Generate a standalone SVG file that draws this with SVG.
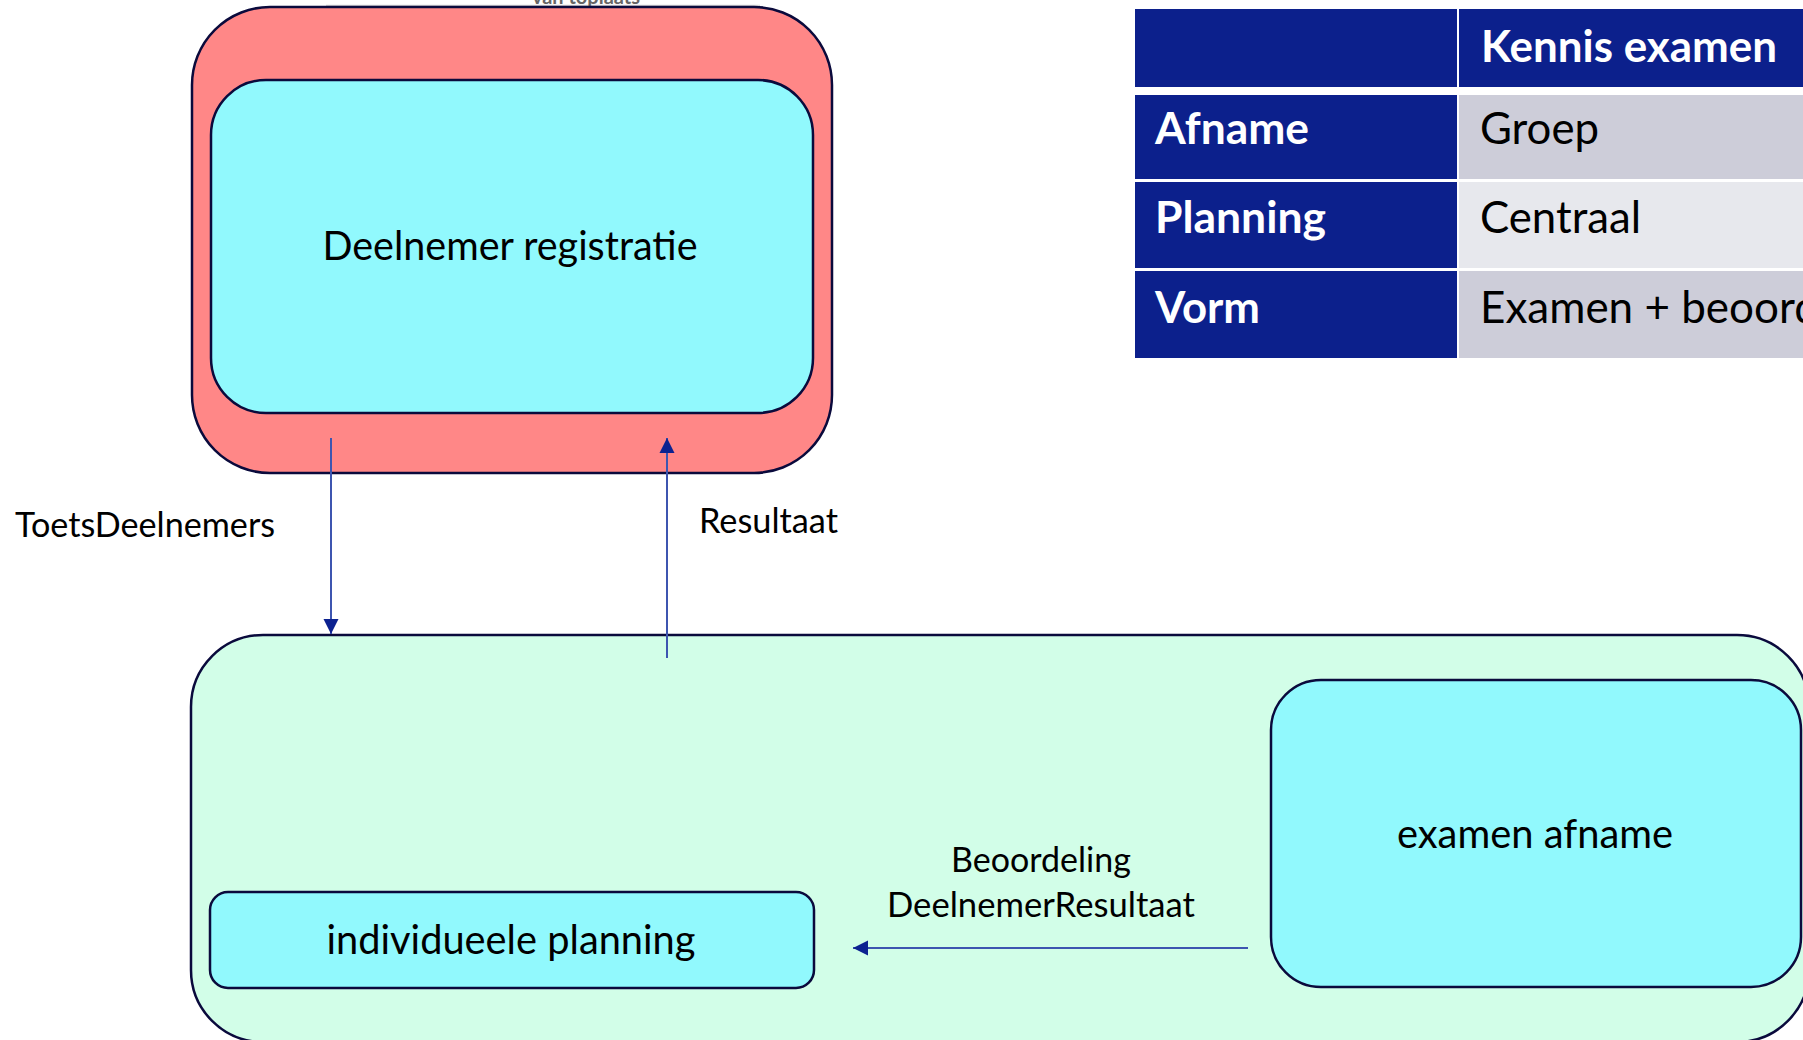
<svg xmlns="http://www.w3.org/2000/svg" width="1803" height="1040" viewBox="0 0 1803 1040">
  <style>
    .box { stroke: #0a0a3c; stroke-width: 2.5; }
    .red { fill: #ff8787; }
    .cyan { fill: #91f9fd; }
    .green { fill: #d2fee8; }
    .lbl { font-family: Lato, "Liberation Sans", sans-serif; fill: #000; }
    .node { font-family: Lato, "Liberation Sans", sans-serif; font-size: 40px; fill: #000; text-anchor: middle; }
    .hdr { fill: #0c208c; }
    .c1 { fill: #cdcdd9; }
    .c2 { fill: #e7e8ed; }
    .th { font-family: Lato, "Liberation Sans", sans-serif; font-weight: bold; font-size: 44px; fill: #fff; }
    .td { font-family: Lato, "Liberation Sans", sans-serif; font-size: 44px; fill: #000; }
    .conn { stroke: #3d55b0; stroke-width: 2; fill: none; }
  </style>
  <defs>
    <marker id="ah" markerUnits="userSpaceOnUse" markerWidth="16" markerHeight="16" viewBox="0 0 16 16" refX="15" refY="8" orient="auto">
      <path d="M0,0.5 L15,8 L0,15.5 Z" fill="#0c2290"/>
    </marker>
  </defs>

  <rect x="0" y="0" width="1803" height="1040" fill="#ffffff"/>

  <g id="top-fragment">
    <line x1="326" y1="5.5" x2="760" y2="5.5" stroke="#d8d8d8" stroke-width="1.5"/>
    <text x="586" y="4" font-family="Lato, 'Liberation Sans', sans-serif" font-size="20" font-weight="bold" fill="#666" text-anchor="middle">van toplaats</text>
  </g>

  <g id="deelnemer-container">
    <rect class="box red" x="192" y="7" width="640" height="466" rx="78" ry="78"/>
  </g>

  <g id="deelnemer-registratie">
    <rect class="box cyan" x="211" y="80" width="602" height="333" rx="55" ry="55"/>
    <text class="node" x="510" y="260" textLength="375" lengthAdjust="spacingAndGlyphs">Deelnemer registratie</text>
  </g>

  <g id="toets-container">
    <rect class="box green" x="191" y="635" width="1618" height="407" rx="72" ry="72"/>
  </g>

  <g id="examen-afname">
    <rect class="box cyan" x="1271" y="680" width="530" height="307" rx="50" ry="50"/>
    <text class="node" x="1535" y="848" textLength="276" lengthAdjust="spacingAndGlyphs">examen afname</text>
  </g>

  <g id="individueele-planning">
    <rect class="box cyan" x="210" y="892" width="604" height="96" rx="18" ry="18"/>
    <text class="node" x="511" y="954" textLength="369" lengthAdjust="spacingAndGlyphs">individueele planning</text>
  </g>

  <g id="table">
    <rect class="hdr" x="1135" y="9" width="322" height="78"/>
    <rect class="hdr" x="1459" y="9" width="344" height="78"/>
    <rect class="hdr" x="1135" y="95" width="322" height="84"/>
    <rect class="c1" x="1459" y="95" width="344" height="84"/>
    <rect class="hdr" x="1135" y="182" width="322" height="86"/>
    <rect class="c2" x="1459" y="182" width="344" height="86"/>
    <rect class="hdr" x="1135" y="271" width="322" height="87"/>
    <rect class="c1" x="1459" y="271" width="344" height="87"/>
    <text class="th" x="1481" y="62" textLength="296" lengthAdjust="spacingAndGlyphs">Kennis examen</text>
    <text class="th" x="1155" y="144" textLength="154" lengthAdjust="spacingAndGlyphs">Afname</text>
    <text class="th" x="1155" y="233" textLength="171" lengthAdjust="spacingAndGlyphs">Planning</text>
    <text class="th" x="1155" y="323" textLength="105" lengthAdjust="spacingAndGlyphs">Vorm</text>
    <text class="td" x="1480" y="144" textLength="119" lengthAdjust="spacingAndGlyphs">Groep</text>
    <text class="td" x="1480" y="233" textLength="161" lengthAdjust="spacingAndGlyphs">Centraal</text>
    <text class="td" x="1480" y="323">Examen + beoord</text>
  </g>

  <g id="connectors">
    <line class="conn" x1="331" y1="438" x2="331" y2="634" marker-end="url(#ah)"/>
    <line class="conn" x1="667" y1="658" x2="667" y2="438" marker-end="url(#ah)"/>
    <line class="conn" x1="1248" y1="948" x2="853" y2="948" marker-end="url(#ah)"/>
    <text class="lbl" x="15" y="537" font-size="34" textLength="260" lengthAdjust="spacingAndGlyphs">ToetsDeelnemers</text>
    <text class="lbl" x="699" y="533" font-size="34" textLength="139" lengthAdjust="spacingAndGlyphs">Resultaat</text>
    <text class="lbl" x="1041" y="872" font-size="34" text-anchor="middle">Beoordeling</text>
    <text class="lbl" x="1041" y="917" font-size="34" text-anchor="middle" textLength="308" lengthAdjust="spacingAndGlyphs">DeelnemerResultaat</text>
  </g>
</svg>
